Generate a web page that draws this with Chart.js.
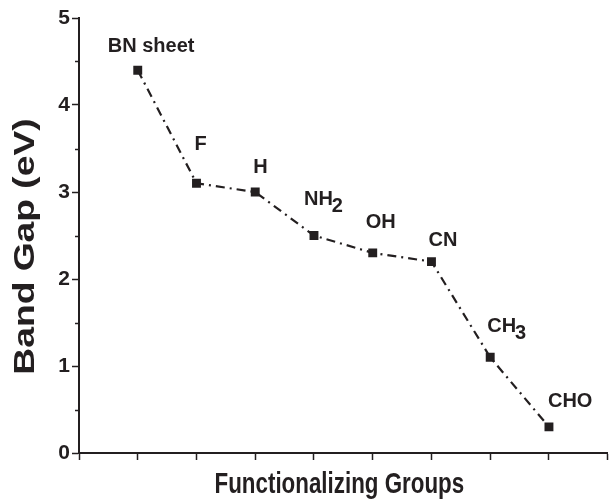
<!DOCTYPE html>
<html>
<head>
<meta charset="utf-8">
<script src="https://cdn.jsdelivr.net/npm/chart.js@4.4.0/dist/chart.umd.min.js"></script>
<style>
	html, body { margin: 0; padding: 0; background: #fff; }
	#wrap { width: 614px; height: 502px; }
</style>
</head>
<body>
<div id="wrap"><canvas id="gapChart"></canvas></div>
<script>
// group names (main part + subscript), their slot on the x axis and band gaps in eV
let groupNames = ['BN sheet', 'F', 'H', 'NH', 'OH', 'CN', 'CH', 'CHO'];
let groupSubs = ['', '', '', '2', '', '', '3', ''];
let groupSlots = [1, 2, 3, 4, 5, 6, 7, 8];
let bandGap = [4.4, 3.1, 3.0, 2.5, 2.3, 2.2, 1.1, 0.3];

let xTicks = [0, 1, 2, 3, 4, 5, 6, 7, 8, 9];
let yTicks = [0, 1, 2, 3, 4, 5];
let yMinorTicks = [0.5, 1.5, 2.5, 3.5, 4.5];

let xTitle = 'Functionalizing Groups';
let yTitle = 'Band Gap (eV)';

let ink = '#231f20';
let fontFamily = "'Liberation Sans', Arial, Helvetica, sans-serif";

// label placement relative to each point: [dx to left edge, dy to baseline]
let labelOffsets = [[-30, -18], [-2, -33], [-2, -19], [-10, -31], [-7, -25], [-3, -16], [-3, -25], [-1, -20]];

// short minor ticks on the y axis
let minorTicks = {
	id: 'minorTicks',
	afterDraw (chart) {
		let { ctx, scales: { y } } = chart;
		ctx.save();
		ctx.strokeStyle = ink;
		ctx.lineWidth = 1.5;
		yMinorTicks.forEach(v => {
			let py = Math.round(y.getPixelForValue(v)) + 0.5;
			ctx.beginPath();
			ctx.moveTo(y.right - 4, py);
			ctx.lineTo(y.right, py);
			ctx.stroke();
		});
		ctx.restore();
	},
};

// axis titles, drawn by hand since the original lettering is condensed/stretched
let axisTitles = {
	id: 'axisTitles',
	afterDraw (chart) {
		let { ctx, chartArea } = chart;
		ctx.save();
		ctx.fillStyle = ink;
		ctx.font = 'bold 30px ' + fontFamily;
		ctx.textAlign = 'center';
		ctx.textBaseline = 'alphabetic';

		// x title under the axis
		ctx.save();
		ctx.translate((chartArea.left + chartArea.right) / 2 - 4, 493);
		ctx.scale(0.745, 1);
		ctx.fillText(xTitle, 0, 0);
		ctx.restore();

		// y title, rotated
		ctx.save();
		ctx.translate(34, (chartArea.top + chartArea.bottom) / 2 + 11);
		ctx.rotate(-Math.PI / 2);
		ctx.scale(1.24, 1);
		ctx.fillText(yTitle, 0, 0);
		ctx.restore();

		ctx.restore();
	},
};

// group name next to each point, with lowered subscript digits
let pointLabels = {
	id: 'pointLabels',
	afterDatasetsDraw (chart) {
		let { ctx } = chart;
		let meta = chart.getDatasetMeta(0);
		ctx.save();
		ctx.fillStyle = ink;
		ctx.font = 'bold 20px ' + fontFamily;
		ctx.textAlign = 'left';
		ctx.textBaseline = 'alphabetic';
		meta.data.forEach((pt, i) => {
			let x = pt.x + labelOffsets[i][0];
			let y = pt.y + labelOffsets[i][1];
			ctx.fillText(groupNames[i], x, y);
			if (groupSubs[i]) {
				let w = ctx.measureText(groupNames[i]).width;
				ctx.fillText(groupSubs[i], x + w - 1, y + 7);
			}
		});
		ctx.restore();
	},
};

new Chart(document.getElementById('gapChart'), {
	type: 'scatter',
	data: {
		datasets: [{
			data: groupSlots.map((s, i) => ({ x: s, y: bandGap[i] })),
			showLine: true,
			borderColor: ink,
			borderWidth: 2.2,
			borderDash: [9, 5, 2, 5],
			backgroundColor: ink,
			pointStyle: 'rect',
			pointRadius: 6.3,
			pointHoverRadius: 6.3,
			pointBorderWidth: 0,
		}],
	},
	options: {
		responsive: true,
		maintainAspectRatio: false,
		animation: false,
		layout: { padding: { top: 18, right: 1, bottom: 0, left: 0 } },
		plugins: {
			legend: { display: false },
			tooltip: { enabled: false },
		},
		scales: {
			x: {
				type: 'linear',
				min: 0,
				max: 9,
				afterBuildTicks (scale) { scale.ticks = xTicks.map(v => ({ value: v })); },
				afterFit (scale) { scale.height = 49; },
				ticks: { callback: () => '', padding: 0 },
				grid: { drawOnChartArea: false, tickLength: 7, tickColor: ink, tickWidth: 1.5 },
				border: { color: ink, width: 2 },
			},
			y: {
				min: 0,
				max: 5,
				afterBuildTicks (scale) { scale.ticks = yTicks.map(v => ({ value: v })); },
				afterFit (scale) { scale.width = 79; },
				ticks: {
					color: ink,
					padding: 2,
					font: { family: fontFamily, size: 21, weight: 'bold' },
				},
				grid: { drawOnChartArea: false, tickLength: 7, tickColor: ink, tickWidth: 1.5 },
				border: { color: ink, width: 2 },
			},
		},
	},
	plugins: [ minorTicks, axisTitles, pointLabels ],
});
</script>
</body>
</html>
